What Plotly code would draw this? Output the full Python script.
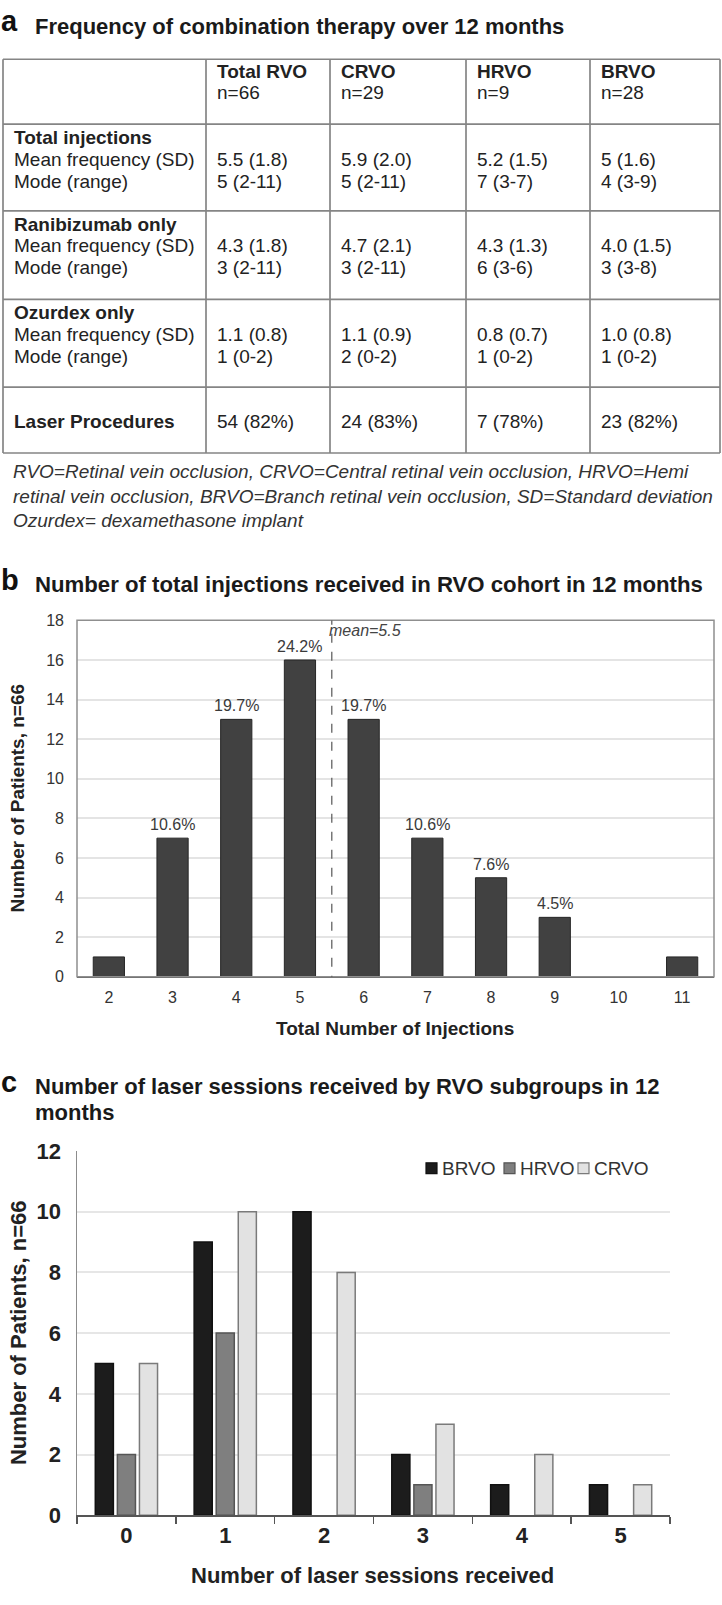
import plotly.graph_objects as go

W, H = 722, 1605
FONT = "Liberation Sans, Arial, sans-serif"

# ---------------- Panel a : table data ----------------
col_names = ["Total RVO", "CRVO", "HRVO", "BRVO"]
col_n = ["n=66", "n=29", "n=9", "n=28"]
section_names = ["Total injections", "Ranibizumab only", "Ozurdex only"]
stat_names = ["Mean frequency (SD)", "Mode (range)"]
total_inj_mean = ["5.5 (1.8)", "5.9 (2.0)", "5.2 (1.5)", "5 (1.6)"]
total_inj_mode = ["5 (2-11)", "5 (2-11)", "7 (3-7)", "4 (3-9)"]
ranib_mean = ["4.3 (1.8)", "4.7 (2.1)", "4.3 (1.3)", "4.0 (1.5)"]
ranib_mode = ["3 (2-11)", "3 (2-11)", "6 (3-6)", "3 (3-8)"]
ozur_mean = ["1.1 (0.8)", "1.1 (0.9)", "0.8 (0.7)", "1.0 (0.8)"]
ozur_mode = ["1 (0-2)", "2 (0-2)", "1 (0-2)", "1 (0-2)"]
laser_label = "Laser Procedures"
laser_procs = ["54 (82%)", "24 (83%)", "7 (78%)", "23 (82%)"]
footnote_lines = [
    "RVO=Retinal vein occlusion, CRVO=Central retinal vein occlusion, HRVO=Hemi",
    "retinal vein occlusion, BRVO=Branch retinal vein occlusion, SD=Standard deviation",
    "Ozurdex= dexamethasone implant",
]

# ---------------- Panel b data ----------------
inj_counts = [2, 3, 4, 5, 6, 7, 8, 9, 10, 11]
inj_patients = [1, 7, 13, 16, 13, 7, 5, 3, 0, 1]
inj_pct_labels = ["", "10.6%", "19.7%", "24.2%", "19.7%", "10.6%", "7.6%", "4.5%", "", ""]
inj_mean = 5.5

# ---------------- Panel c data ----------------
laser_sessions = ["0", "1", "2", "3", "4", "5"]
subgroup_names = ["BRVO", "HRVO", "CRVO"]
brvo = [5, 9, 10, 2, 1, 1]
hrvo = [2, 6, 0, 1, 0, 0]
crvo = [5, 10, 8, 3, 2, 1]
subgroup_fill = ["#1c1c1c", "#7f7f7f", "#e2e2e2"]
subgroup_edge = ["#111111", "#555555", "#7a7a7a"]


def px(x):
    return x / W


def py(y):
    return 1 - y / H


annotations = []
shapes = []


def txt(x, y, s, size=19, bold=False, italic=False, color="#222222",
        xanchor="left", yanchor="middle", angle=0):
    t = s
    if italic:
        t = "<i>" + t + "</i>"
    annotations.append(dict(
        x=px(x), y=py(y), xref="paper", yref="paper", text=t, showarrow=False,
        xanchor=xanchor, yanchor=yanchor, textangle=angle,
        font=dict(family=FONT, size=size, color=color,
                  weight="bold" if bold else "normal")))


# ---------------- Panel a: title + table ----------------
txt(-1, 9, "a", size=29, bold=True, color="#111111")
txt(33, 15, "Frequency of combination therapy over 12 months", size=22, bold=True, color="#1a1a1a")

row_lines = [48, 114, 202, 292, 381, 448]
col_lines = [3, 206, 330, 466, 590, 720]
for yl in row_lines:
    shapes.append(dict(type="line", xref="paper", yref="paper",
                       x0=px(col_lines[0]), x1=px(col_lines[-1]), y0=py(yl), y1=py(yl),
                       line=dict(color="#858585", width=1.7)))
for xl in col_lines:
    shapes.append(dict(type="line", xref="paper", yref="paper",
                       x0=px(xl), x1=px(xl), y0=py(row_lines[0]), y1=py(row_lines[-1]),
                       line=dict(color="#858585", width=1.7)))

text_x = [c + 9 for c in col_lines[:-1]]
first_x = 12
for j, (nm, n) in enumerate(zip(col_names, col_n)):
    txt(text_x[j + 1], 60, nm, bold=True)
    txt(text_x[j + 1], 82, n)

sections = [
    (total_inj_mean, total_inj_mode),
    (ranib_mean, ranib_mode),
    (ozur_mean, ozur_mode),
]
for k, (name, (mean_vals, mode_vals)) in enumerate(zip(section_names, sections)):
    top = row_lines[k + 1]
    y0 = top + 13.5
    txt(first_x, y0, name, bold=True)
    txt(first_x, y0 + 22, stat_names[0])
    txt(first_x, y0 + 44.5, stat_names[1])
    for j in range(4):
        txt(text_x[j + 1], y0 + 22, mean_vals[j])
        txt(text_x[j + 1], y0 + 44.5, mode_vals[j])

txt(first_x, 416, laser_label, bold=True)
for j in range(4):
    txt(text_x[j + 1], 416, laser_procs[j])

for i, line in enumerate(footnote_lines):
    txt(11, 467 + 25 * i, line, size=19, italic=True, color="#333333")

# ---------------- Panel b ----------------
txt(-1, 577, "b", size=29, bold=True, color="#111111")
txt(33, 582, "Number of total injections received in RVO cohort in 12 months", size=22.2, bold=True, color="#1a1a1a")
txt(18, 799, "Number of Patients, n=66", size=19, bold=True, color="#222222",
    xanchor="center", angle=-90)
txt(395, 1033, "Total Number of Injections", size=19, bold=True, color="#222222", xanchor="center")

bar_b = go.Bar(x=inj_counts, y=[v if v else None for v in inj_patients], width=0.49,
               xaxis="x", yaxis="y",
               marker=dict(color="#414141", line=dict(color="#262626", width=1)),
               showlegend=False, hoverinfo="x+y")

shapes.append(dict(type="rect", xref="x domain", yref="y domain", x0=0, x1=1, y0=0, y1=1,
                   line=dict(color="#8f8f8f", width=1.5), layer="above"))
shapes.append(dict(type="line", xref="x", yref="y", x0=inj_mean, x1=inj_mean, y0=-0.4, y1=18,
                   line=dict(color="#555555", width=1.2, dash="dash")))
annotations.append(dict(x=inj_mean, y=17.5, xref="x", yref="y", text="<i>mean=5.5</i>",
                        showarrow=False, xanchor="left", yanchor="middle", xshift=-5,
                        font=dict(family=FONT, size=16, color="#444444")))
for xv, yv, lab in zip(inj_counts, inj_patients, inj_pct_labels):
    if lab:
        annotations.append(dict(x=xv, y=yv, xref="x", yref="y", text=lab, showarrow=False,
                                xanchor="center", yanchor="bottom", yshift=3,
                                font=dict(family=FONT, size=16, color="#3a3a3a")))

# ---------------- Panel c ----------------
txt(-1, 1087, "c", size=29, bold=True, color="#111111")
txt(33, 1092, "Number of laser sessions received by RVO subgroups in 12", size=22, bold=True, color="#1a1a1a")
txt(33, 1118, "months", size=22, bold=True, color="#1a1a1a")
txt(18, 1342, "Number of Patients, n=66", size=22, bold=True, color="#222222",
    xanchor="center", angle=-90)
txt(373, 1588, "Number of laser sessions received", size=22, bold=True, color="#222222", xanchor="center")

bars_c = []
for name, vals, fc, ec in zip(subgroup_names, [brvo, hrvo, crvo], subgroup_fill, subgroup_edge):
    bars_c.append(go.Bar(x=laser_sessions, y=[v if v else None for v in vals], name=name,
                         xaxis="x2", yaxis="y2", showlegend=False,
                         marker=dict(color=fc, line=dict(color=ec, width=1.5))))

# compact legend (square swatch + label), as in the original figure
legend_sq_x = [426, 504, 578]
for sx, name, fc, ec in zip(legend_sq_x, subgroup_names, subgroup_fill, subgroup_edge):
    shapes.append(dict(type="rect", xref="paper", yref="paper",
                       x0=px(sx), x1=px(sx + 11), y0=py(1180), y1=py(1169),
                       fillcolor=fc, line=dict(color=ec, width=1.2)))
    txt(sx + 14, 1175, name, size=19, color="#333333")

fig = go.Figure(data=[bar_b] + bars_c)

fig.update_layout(
    width=W, height=H, autosize=False,
    margin=dict(l=0, r=0, t=0, b=0, pad=0),
    paper_bgcolor="white", plot_bgcolor="white",
    barmode="group", bargap=0.33, bargroupgap=0.18,
    showlegend=False,
    font=dict(family=FONT, color="#333333"),
    xaxis=dict(domain=[px(77), px(714)], anchor="y", range=[1.5, 11.5],
               tickvals=inj_counts, ticks="", showgrid=False, zeroline=False,
               showline=True, linecolor="#5a5a5a", linewidth=1.5,
               tickfont=dict(family=FONT, size=16, color="#333333"),
               ticklabelstandoff=6, fixedrange=True),
    yaxis=dict(domain=[py(980), py(618)], anchor="x", range=[0, 18], dtick=2,
               ticks="", showgrid=True, gridcolor="#e4e4e4", gridwidth=2,
               zeroline=False, showline=False,
               tickfont=dict(family=FONT, size=16, color="#333333"),
               ticklabelstandoff=12, fixedrange=True),
    xaxis2=dict(domain=[px(77), px(670)], anchor="y2", type="category",
                tickson="boundaries", ticks="outside", ticklen=7, tickcolor="#555555",
                tickwidth=1.5, showline=True, linecolor="#555555", linewidth=1.5,
                showgrid=False, zeroline=False,
                tickfont=dict(family=FONT, size=22, color="#222222", weight="bold"),
                fixedrange=True),
    yaxis2=dict(domain=[py(1527), py(1157)], anchor="x2", range=[0, 12], dtick=2,
                ticks="", showgrid=True, gridcolor="#e6e6e6", gridwidth=2,
                zeroline=False, showline=True, linecolor="#8c8c8c", linewidth=1.5,
                tickfont=dict(family=FONT, size=22, color="#222222", weight="bold"),
                ticklabelstandoff=10, fixedrange=True),
    annotations=annotations,
    shapes=shapes,
)

fig.write_html("out.html", config={"displayModeBar": False, "staticPlot": True},
               post_script="document.body.style.margin='0';document.body.style.overflow='hidden';")
